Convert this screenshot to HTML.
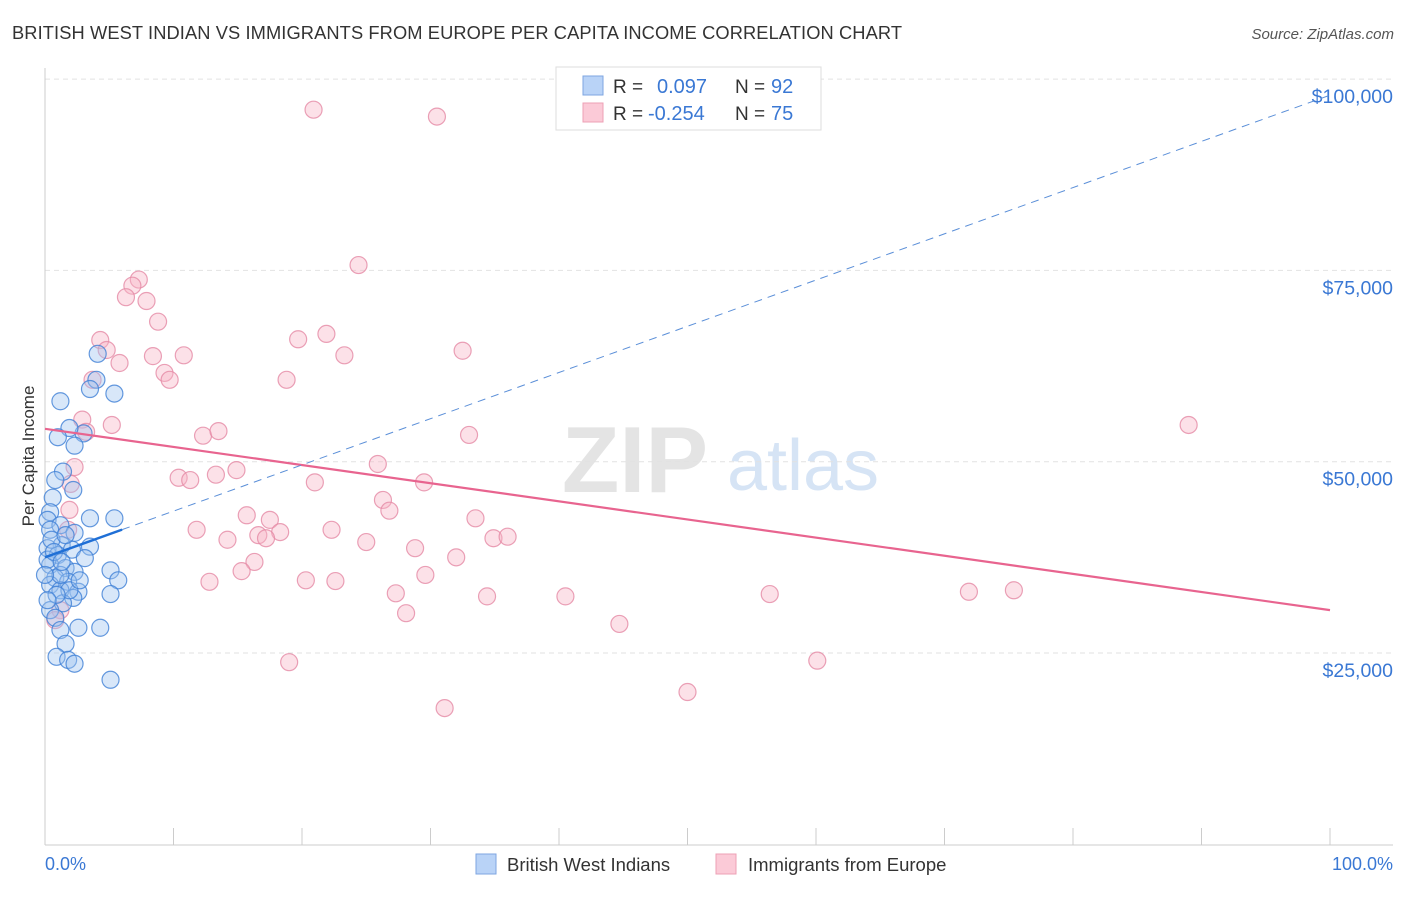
<!DOCTYPE html>
<html><head><meta charset="utf-8"><style>
body{margin:0;background:#fff;font-family:"Liberation Sans",sans-serif;}
svg text{font-family:"Liberation Sans",sans-serif;}
</style></head><body>
<svg id="chart" width="1406" height="892" xmlns="http://www.w3.org/2000/svg">
<text x="12" y="39" font-size="18.3" fill="#333" textLength="890">BRITISH WEST INDIAN VS IMMIGRANTS FROM EUROPE PER CAPITA INCOME CORRELATION CHART</text>
<text x="1394" y="39" font-size="15" fill="#555" text-anchor="end" font-style="italic">Source: ZipAtlas.com</text>
<g>
<text x="635" y="492" font-size="94" fill="#e4e4e4" text-anchor="middle" font-family="Liberation Serif" font-weight="bold">ZIP</text>
<text x="803" y="490" font-size="72" fill="#d6e4f5" text-anchor="middle">atlas</text>
</g>
<g id="grid"></g>
<g id="axes"></g>
<g id="points"></g>
<g id="trends"></g>
<text transform="translate(34,456) rotate(-90)" font-size="17" fill="#333" text-anchor="middle">Per Capita Income</text>
<text x="45" y="870" font-size="18" fill="#3a78d4">0.0%</text>
<text x="1393" y="870" font-size="18" fill="#3a78d4" text-anchor="end">100.0%</text>
<g>
<rect x="556" y="67" width="265" height="63" fill="#fff" stroke="#ddd"/>
<rect x="583" y="76" width="20" height="19" fill="#b9d3f7" stroke="#7ea6e0"/>
<rect x="583" y="103" width="20" height="19" fill="#fbcad7" stroke="#eea0b5"/>
<text x="613" y="93" font-size="19" fill="#333">R =</text>
<text x="657" y="93" font-size="20" fill="#3a78d4">0.097</text>
<text x="735" y="93" font-size="19" fill="#333">N =</text>
<text x="771" y="93" font-size="20" fill="#3a78d4">92</text>
<text x="613" y="120" font-size="19" fill="#333">R =</text>
<text x="648" y="120" font-size="20" fill="#3a78d4">-0.254</text>
<text x="735" y="120" font-size="19" fill="#333">N =</text>
<text x="771" y="120" font-size="20" fill="#3a78d4">75</text>
</g>
<g>
<rect x="476" y="854" width="20" height="20" fill="#b9d3f7" stroke="#7ea6e0"/>
<text x="507" y="871" font-size="18.5" fill="#333">British West Indians</text>
<rect x="716" y="854" width="20" height="20" fill="#fbcad7" stroke="#eea0b5"/>
<text x="748" y="871" font-size="18.5" fill="#333">Immigrants from Europe</text>
</g>
</svg>
<script>
const yTicks=[25000,50000,75000,100000];
const yTickLabels=["$25,000","$50,000","$75,000","$100,000"];
const xTicks=[0,10,20,30,40,50,60,70,80,90,100];
const blueX=[4.1,4.0,5.4,3.5,1.2,3.0,1.9,1.0,2.3,1.4,0.8,2.2,0.6,0.4,3.5,5.4,0.2,1.2,0.4,2.3,1.3,3.5,0.2,1.0,2.1,3.1,0.4,1.6,2.3,0.8,1.8,5.1,5.7,0.4,1.2,2.6,5.1,2.2,1.4,0.4,0.8,1.2,2.6,4.3,1.6,0.9,1.8,2.3,5.1,0.5,0.2,1.2,1.9,0.9,0.2,1.6,2.7,0.0,0.7,1.3];
const blueY=[64.1,60.7,58.9,59.5,57.9,53.7,54.4,53.2,52.1,48.7,47.6,46.3,45.3,43.4,42.6,42.6,42.4,41.7,41.1,40.7,39.1,38.9,38.7,37.8,38.5,37.4,36.5,36.1,35.6,34.8,34.3,35.8,34.5,33.9,33.2,33.0,32.7,32.2,31.5,30.6,29.6,28.0,28.3,28.3,26.2,24.5,24.1,23.6,21.5,39.8,37.2,35.2,33.2,32.6,31.9,40.4,34.5,35.2,38.2,36.9];
const pinkX=[20.9,30.5,24.4,7.3,6.8,6.3,7.9,8.8,4.3,19.7,21.9,4.8,8.4,10.8,23.3,32.5,5.8,9.3,9.7,3.7,18.8,2.9,5.2,3.2,12.3,13.5,33.0,89.0,2.3,10.4,11.3,13.3,14.9,25.9,21.0,29.5,26.3,26.8,2.0,1.9,15.7,17.5,11.8,33.5,22.3,14.2,16.6,18.3,17.2,25.0,28.8,34.9,36.0,32.0,16.3,15.3,12.8,20.3,22.6,29.6,27.3,34.4,40.5,56.4,71.9,75.4,28.1,44.7,19.0,60.1,50.0,31.1,1.2,0.8,1.8];
const pinkY=[96.0,95.1,75.7,73.8,73.0,71.5,71.0,68.3,65.9,66.0,66.7,64.6,63.8,63.9,63.9,64.5,62.9,61.6,60.7,60.7,60.7,55.5,54.8,53.9,53.4,54.0,53.5,54.8,49.3,47.9,47.6,48.3,48.9,49.7,47.3,47.3,45.0,43.6,47.1,43.7,43.0,42.4,41.1,42.6,41.1,39.8,40.4,40.8,40.0,39.5,38.7,40.0,40.2,37.5,36.9,35.7,34.3,34.5,34.4,35.2,32.8,32.4,32.4,32.7,33.0,33.2,30.2,28.8,23.8,24.0,19.9,17.8,30.6,29.3,41.1];
const blueTrend=[37.5,97.9];
const pinkTrend=[54.3,30.6];
const NS="http://www.w3.org/2000/svg";
const xs=p=>45+p*12.85;
const ys=v=>653-(v-25000)*191.3/25000;
function mk(tag,attrs,parent){const e=document.createElementNS(NS,tag);for(const k in attrs)e.setAttribute(k,attrs[k]);document.getElementById(parent).appendChild(e);return e;}
yTicks.forEach((t,i)=>{
 const l=mk('line',{x1:45,x2:1393,y1:ys(t),y2:ys(t),stroke:'#e2e2e2','stroke-dasharray':'5,4'},'grid');
 
 
 const tx=mk('text',{x:1393,y:ys(t)+24,'font-size':19.5,fill:'#3a78d4','text-anchor':'end'},'axes');
 tx.textContent=yTickLabels[i];
 
 
});
const ya=mk('line',{x1:45,x2:45,y1:68,y2:845,stroke:'#ccc'},'axes');


const xa=mk('line',{x1:45,x2:1393,y1:845,y2:845,stroke:'#ccc'},'axes');


xTicks.forEach(t=>{
 const l=mk('line',{x1:xs(t),x2:xs(t),y1:828,y2:845,stroke:'#ccc'},'axes');
 
 
});
function dots(X,Y,fill,stroke,name){
 X.forEach((x,i)=>{
  const c=mk('circle',{cx:xs(x),cy:ys(Y[i]*1000),r:8.5,fill:fill,'fill-opacity':0.4,stroke:stroke,'stroke-width':1.2,'stroke-opacity':0.8},'points');
  
  
 });
}
dots(pinkX,pinkY,'#f7b3c6','#e58aa5','point-immigrants-from-europe');
dots(blueX,blueY,'#9ec3f0','#3f7fd6','point-british-west-indians');
const pl=mk('line',{x1:xs(0),y1:ys(pinkTrend[0]*1000),x2:xs(100),y2:ys(pinkTrend[1]*1000),stroke:'#e8648f','stroke-width':2.2},'trends');


const bf=v=>blueTrend[0]+(blueTrend[1]-blueTrend[0])*v/100;
const bd=mk('line',{x1:xs(6),y1:ys(bf(6)*1000),x2:xs(100),y2:ys(bf(100)*1000),stroke:'#5b8fd8','stroke-width':1,'stroke-dasharray':'8,6'},'trends');


const bl=mk('line',{x1:xs(0),y1:ys(bf(0)*1000),x2:xs(6),y2:ys(bf(6)*1000),stroke:'#1f6fd6','stroke-width':2.5},'trends');


</script>
</body></html>
